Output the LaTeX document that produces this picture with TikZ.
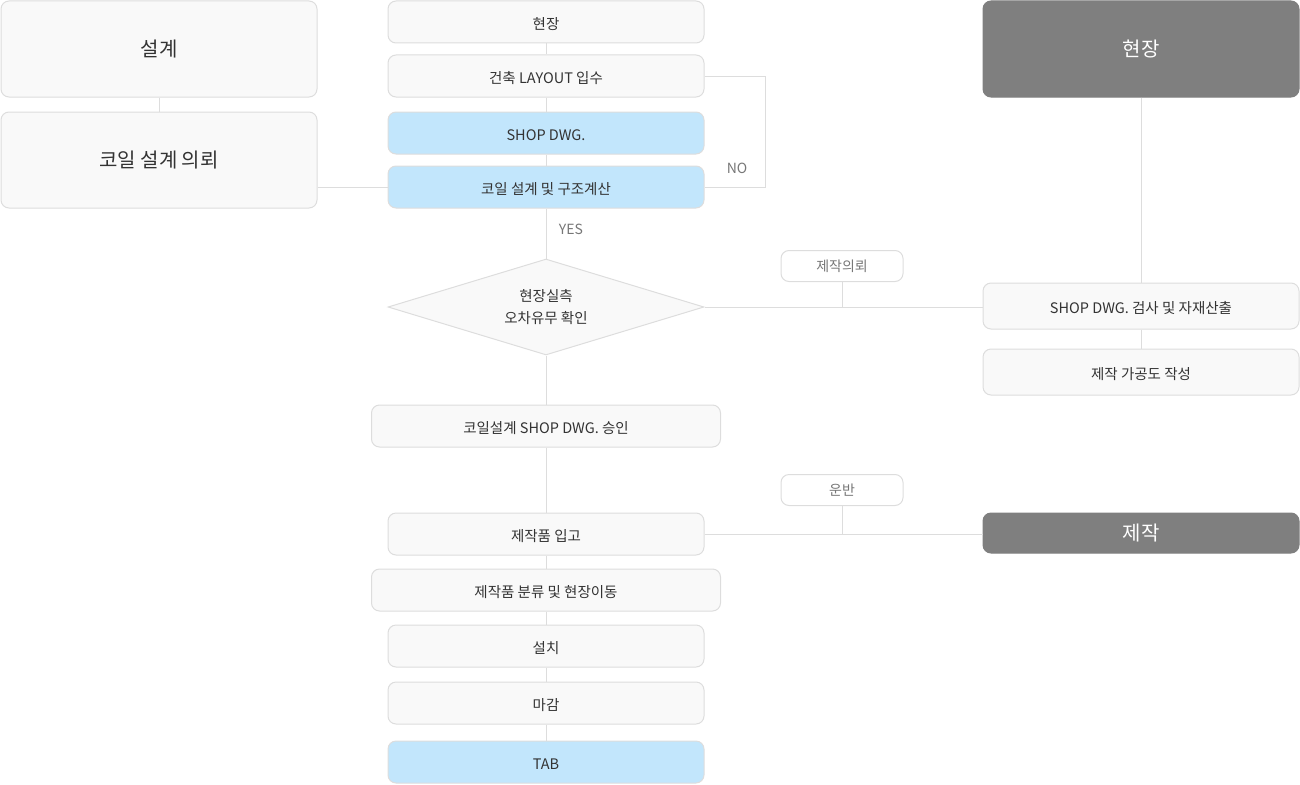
\documentclass[tikz,border=0pt]{standalone}
\usepackage{fontspec}
\setmainfont{Noto Sans CJK KR}
\usetikzlibrary{shapes.geometric}
\definecolor{boxfill}{HTML}{F9F9F9}
\definecolor{boxline}{HTML}{DDDDDD}
\definecolor{bluefill}{HTML}{C2E6FC}
\definecolor{darkfill}{HTML}{7F7F7F}
\definecolor{txt}{HTML}{333333}
\definecolor{lbl}{HTML}{777777}
\begin{document}
\begin{tikzpicture}[x=1pt,y=-1pt,
  base/.style={draw=boxline, fill=boxfill, rounded corners=8pt, line width=1pt, text=txt, inner sep=0pt,
    minimum width=316pt},
  box/.style={base, minimum height=42pt, text height=16pt, text depth=1pt, font=\fontsize{14.5}{17}\selectfont},
  widebox/.style={box, minimum width=349pt},
  bluebox/.style={box, fill=bluefill},
  bigbox/.style={base, minimum height=96pt, font=\fontsize{20}{24}\selectfont},
  darkbox/.style={base, fill=darkfill, draw=darkfill, text=white, font=\fontsize{20}{24}\selectfont},
  rbox/.style={box, minimum height=46pt},
  tag/.style={draw=boxline, fill=white, rounded corners=8pt, line width=1pt, text=lbl, inner sep=0pt,
    minimum width=122pt, minimum height=31pt, font=\fontsize{14}{16}\selectfont},
  lbltext/.style={text=lbl, inner sep=0pt, font=\fontsize{14}{16}\selectfont},
  conn/.style={draw=boxline, line width=1pt},
  dia/.style={diamond, aspect=3.3, draw=boxline, fill=boxfill, line width=1pt, text=txt, inner sep=0pt,
    minimum width=316pt, minimum height=96pt, align=center, font=\fontsize{14.5}{22}\selectfont}
]
\useasboundingbox (0,0) rectangle (1300,784);

% left column
\node[bigbox] (l1) at (159,49) {설계};
\node[bigbox] (l2) at (159,160) {코일 설계 의뢰};

% middle column
\node[box] (m1) at (546,22) {현장};
\node[box] (m2) at (546,76) {건축 LAYOUT 입수};
\node[bluebox] (m3) at (546,133) {SHOP DWG.};
\node[bluebox] (m4) at (546,187) {코일 설계 및 구조계산};
\node[dia] (d1) at (546,307) {현장실측\\오차유무 확인};
\node[widebox] (m5) at (546,426) {코일설계 SHOP DWG. 승인};
\node[box] (m6) at (546,534) {제작품 입고};
\node[widebox] (m7) at (546,590) {제작품 분류 및 현장이동};
\node[box] (m8) at (546,646) {설치};
\node[box] (m9) at (546,703) {마감};
\node[bluebox] (m10) at (546,762) {TAB};

% right column
\node[darkbox, minimum height=96pt] (r1) at (1141,49) {현장};
\node[rbox] (r2) at (1141,306) {SHOP DWG. 검사 및 자재산출};
\node[rbox] (r3) at (1141,372) {제작 가공도 작성};
\node[darkbox, minimum height=40pt] (r4) at (1141,533) {제작};

% tags
\node[tag] (t1) at (842,266) {제작의뢰};
\node[tag] (t2) at (842,490) {운반};
\node[lbltext] (yes) at (571,229) {YES};
\node[lbltext] (no) at (737,168) {NO};

\coordinate (nox) at (765,0);

% connectors
\draw[conn] (l1.south) -- (l2.north);
\draw[conn] (m4.west -| l2.east) -- (m4.west);
\draw[conn] (m1.south) -- (m2.north);
\draw[conn] (m2.south) -- (m3.north);
\draw[conn] (m3.south) -- (m4.north);
\draw[conn] (m4.south) -- (d1.north);
\draw[conn] (d1.south) -- (m5.north);
\draw[conn] (m5.south) -- (m6.north);
\draw[conn] (m6.south) -- (m7.north);
\draw[conn] (m7.south) -- (m8.north);
\draw[conn] (m8.south) -- (m9.north);
\draw[conn] (m9.south) -- (m10.north);
\draw[conn] (m2.east) -| (nox |- m4.east) -- (m4.east);
\draw[conn] (r1.south) -- (r2.north);
\draw[conn] (r2.south) -- (r3.north);
\draw[conn] (d1.east) -- (d1.east -| r2.west);
\draw[conn] (t1.south) -- (t1.south |- d1.east);
\draw[conn] (m6.east) -- (m6.east -| r4.west);
\draw[conn] (t2.south) -- (t2.south |- m6.east);
\end{tikzpicture}
\end{document}
